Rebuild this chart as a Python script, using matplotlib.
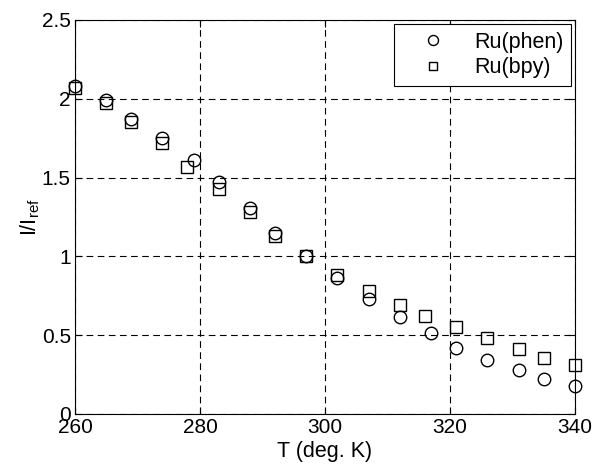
import matplotlib.pyplot as plt

plt.rcParams['font.family'] = ['Liberation Sans', 'DejaVu Sans']
plt.rcParams['mathtext.fontset'] = 'custom'
plt.rcParams['mathtext.rm'] = 'Liberation Sans'

# temperature (K) and normalised intensity for each complex
t_phen = [260, 265, 269, 274, 279, 283, 288, 292, 297, 302, 307, 312, 317, 321, 326, 331, 335, 340]
i_phen = [2.08, 1.99, 1.87, 1.75, 1.61, 1.47, 1.31, 1.15, 1.00, 0.86, 0.73, 0.615, 0.515, 0.42, 0.345, 0.28, 0.225, 0.18]

t_bpy = [260, 265, 269, 274, 278, 283, 288, 292, 297, 302, 307, 312, 316, 321, 326, 331, 335, 340]
i_bpy = [2.07, 1.97, 1.85, 1.72, 1.57, 1.43, 1.28, 1.13, 1.00, 0.88, 0.78, 0.69, 0.62, 0.55, 0.485, 0.41, 0.355, 0.31]

xticks = [260, 280, 300, 320, 340]
yticks = [0, 0.5, 1, 1.5, 2, 2.5]
ytick_labels = ['0', '0.5', '1', '1.5', '2', '2.5']

fig = plt.figure(figsize=(5.97, 4.68), dpi=100)
ax = fig.add_axes([0.1256, 0.1154, 0.8375, 0.842])

ax.plot(t_phen, i_phen, 'o', ms=9, mfc='none', mec='k', mew=1, label='Ru(phen)', clip_on=False)
ax.plot(t_bpy, i_bpy, 's', ms=8, mfc='none', mec='k', mew=1, label='Ru(bpy)', clip_on=False)

ax.set_xlim(260, 340)
ax.set_ylim(0, 2.5)
ax.set_xticks(xticks)
ax.set_yticks(yticks)
ax.set_yticklabels(ytick_labels)
ax.tick_params(direction='in', top=True, right=True, labelsize=15, length=5, width=0.8, pad=3)
ax.grid(True, color='k', linestyle=(0, (6, 4)), linewidth=0.8)
for s in ax.spines.values():
    s.set_linewidth(0.8)

ax.set_xlabel('T (deg. K)', fontsize=15.5, labelpad=3)
ax.set_ylabel(r'I/I$_{\mathrm{ref}}$', fontsize=15.5, labelpad=0)

leg = ax.legend(loc='upper right', fontsize=15.5, frameon=True, fancybox=False,
                edgecolor='k', framealpha=1, borderaxespad=0.2, borderpad=0.35,
                handletextpad=0.45, labelspacing=0.2, handlelength=2.9,
                markerscale=0.8)
leg.get_frame().set_linewidth(0.8)

fig.savefig('out.png', dpi=100)
